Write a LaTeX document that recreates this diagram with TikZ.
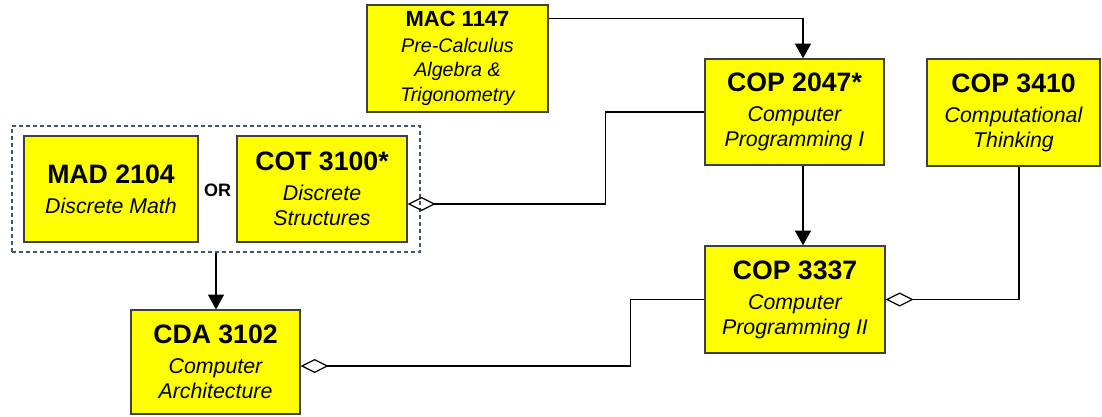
\documentclass[tikz,border=0pt]{standalone}
\usepackage{fontspec}
\setmainfont{Liberation Sans}
\usetikzlibrary{arrows.meta,calc}
\definecolor{courseyellow}{HTML}{FFFF00}
\definecolor{boxline}{HTML}{404040}
\definecolor{groupline}{HTML}{44546A}
\newcommand{\ttl}[1]{{\fontsize{20}{24}\selectfont\upshape\bfseries #1}}
\newcommand{\ttlsm}[1]{{\fontsize{16.5}{20}\selectfont\upshape\bfseries #1}}
\newcommand{\subfont}{\fontsize{16}{18.75}\selectfont\itshape}
\newcommand{\subfontsm}{\fontsize{14.75}{18.25}\selectfont\itshape}

\begin{document}
\begin{tikzpicture}[x=0.75pt,y=-0.75pt,
    course/.style={draw=boxline,line width=1pt,fill=courseyellow,align=center,
      inner sep=0pt,font=\subfont},
    link/.style={line width=0.9pt},
    prereq/.style={link,-{Triangle[length=11pt,width=12pt]}},
    part/.style={link,{Diamond[open,length=21pt,width=10.5pt]}-}]
  \useasboundingbox (0,0) rectangle (1102,417);
  % either/or group
  \node[draw=groupline,line width=0.9pt,dash pattern=on 3pt off 2.25pt,
    minimum width=306pt,minimum height=94.5pt,inner sep=0pt] (grp) at (216,189) {};
  \node[course,minimum width=135.75pt,minimum height=80.25pt,font=\subfontsm] (mac1147) at (457.5,58.5)
    {\ttlsm{MAC 1147}\\[1pt]Pre-Calculus\\Algebra \&\\Trigonometry};
  \node[course,minimum width=134.25pt,minimum height=79.5pt] (cop2047) at (794.5,112)
    {\ttl{COP 2047*}\\[3.75pt]Computer\\Programming I};
  \node[course,minimum width=129.75pt,minimum height=80.25pt] (cop3410) at (1013.5,112.5)
    {\ttl{COP 3410}\\[3.75pt]Computational\\Thinking};
  \node[course,minimum width=130.5pt,minimum height=79.5pt] (mad2104) at (111,189)
    {\ttl{MAD 2104}\\[3.75pt]Discrete Math};
  \node[course,minimum width=127.5pt,minimum height=79.5pt] (cot3100) at (322,189)
    {\ttl{COT 3100*}\\[3.75pt]Discrete\\Structures};
  \node[font=\fontsize{13.5}{16}\selectfont\bfseries] (or) at (217.5,190) {OR};
  \node[course,minimum width=126.75pt,minimum height=78pt] (cda3102) at (215.5,362)
    {\ttl{CDA 3102}\\[3.75pt]Computer\\Architecture};
  \node[course,minimum width=135pt,minimum height=80.25pt] (cop3337) at (795,299.5)
    {\ttl{COP 3337}\\[3.75pt]Computer\\Programming II};
  % prerequisites
  \draw[prereq] ($(mac1147.north east)+(0,14)$) -| ($(cop2047.north)+(8.5,0)$);
  \draw[prereq] ($(cop2047.south)+(8.5,0)$) -- ($(cop3337.north)+(8,0)$);
  \draw[prereq] (grp.south) -- (grp.south |- cda3102.north);
  % corequisites
  \draw[part] ($(cot3100.east)+(0,15)$) -| ($(cop2047.west)+(-99,0)$) -- (cop2047.west);
  \draw[part] ($(cda3102.east)+(0,4)$) -| ($(cop3337.west)+(-74,0)$) -- (cop3337.west);
  \draw[part] (cop3337.east) -| ($(cop3410.south)+(5.5,0)$);
\end{tikzpicture}
\end{document}
